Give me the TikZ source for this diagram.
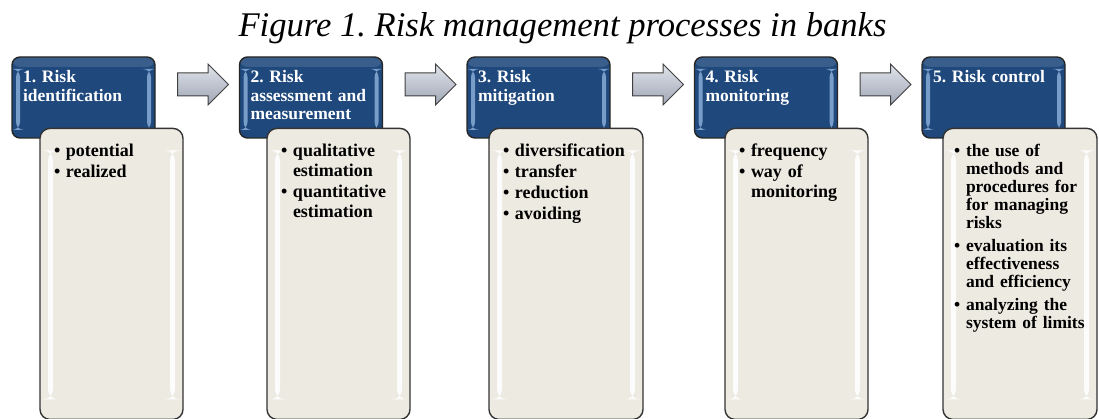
\documentclass[tikz,border=0pt]{standalone}
\usepackage{fontspec}
\setmainfont{Liberation Serif}
\usepackage{xcolor}
\usetikzlibrary{positioning, shapes.arrows}

\definecolor{stageblue}{RGB}{31,72,124}
\definecolor{stageshine}{RGB}{150,186,228}
\definecolor{listfill}{RGB}{237,234,226}
\definecolor{flowlight}{RGB}{224,227,234}
\definecolor{flowdark}{RGB}{160,166,182}

\frenchspacing
\hyphenpenalty=10000
\newcommand{\bitem}[1]{\hangindent=12pt\hangafter=1\noindent\makebox[12pt][l]{\textbullet}#1\par}

\tikzset{
  stage/.style={rectangle, rounded corners=8pt, draw=black!85, line width=1.4pt,
    fill=stageblue, text=white, font=\fontsize{17.5}{18.5}\selectfont\bfseries,
    text width=121pt, inner xsep=11pt, inner ysep=0pt, text height=26pt, text depth=55pt, align=left,
    path picture={
      \fill[stageshine, opacity=.75] ([xshift=4pt,yshift=-12pt]path picture bounding box.north west)
        rectangle ([xshift=8pt,yshift=8pt]path picture bounding box.south west);
      \fill[stageshine, opacity=.75] ([xshift=-4pt,yshift=-12pt]path picture bounding box.north east)
        rectangle ([xshift=-8pt,yshift=8pt]path picture bounding box.south east);
      \fill[white, opacity=.12] (path picture bounding box.north west)
        rectangle ([yshift=-10pt]path picture bounding box.north east);
    }},
  sublist/.style={rectangle, rounded corners=10pt, draw=black!80, line width=1.4pt,
    fill=listfill, text=black, font=\fontsize{18}{20}\selectfont\bfseries\setlength{\parskip}{1pt},
    text width=#1, inner xsep=14pt, inner ysep=0pt, text height=28pt, text depth=263pt, align=left,
    anchor=north west,
    path picture={
      \fill[white, opacity=.9] ([xshift=8pt,yshift=-22pt]path picture bounding box.north west)
        rectangle ([xshift=13pt,yshift=20pt]path picture bounding box.south west);
      \fill[white, opacity=.9] ([xshift=-8pt,yshift=-22pt]path picture bounding box.north east)
        rectangle ([xshift=-13pt,yshift=20pt]path picture bounding box.south east);
    }},
  flow/.style={single arrow, draw=black!75, line width=1pt, top color=flowlight, bottom color=flowdark,
    minimum height=51pt, single arrow head extend=9pt, inner xsep=0pt, inner ysep=11pt}
}

\begin{document}
\begin{tikzpicture}[x=1pt, y=-1pt, node distance=227.5pt, on grid]
   \useasboundingbox (0,0) rectangle (1099,419);

   \node[font=\fontsize{34.6}{40}\selectfont\itshape, anchor=base] (title) at (562.5,37)
        {Figure 1. Risk management processes in banks};

   \node[stage] (s_1) at (83.5,97.5) {1. Risk\\identification};
   \node[stage] (s_2) [right=of s_1] {2. Risk\\assessment and\\measurement};
   \node[stage] (s_3) [right=of s_2] {3. Risk\\mitigation};
   \node[stage] (s_4) [right=of s_3] {4. Risk\\monitoring};
   \node[stage] (s_5) [right=of s_4] {5. Risk control};

   \path (s_1) -- (s_2) node[flow, midway, yshift=13pt] (a_1) {};
   \path (s_2) -- (s_3) node[flow, midway, yshift=13pt] (a_2) {};
   \path (s_3) -- (s_4) node[flow, midway, yshift=13pt] (a_3) {};
   \path (s_4) -- (s_5) node[flow, midway, yshift=13pt] (a_4) {};

   \node[sublist=115pt] (l_1) at ([xshift=28pt, yshift=11pt]s_1.south west)
        {\bitem{potential}\bitem{realized}};
   \node[sublist=115pt] (l_2) at ([xshift=27.5pt, yshift=11pt]s_2.south west)
        {\bitem{qualitative\newline estimation}\bitem{quantitative\newline estimation}};
   \node[sublist=126pt] (l_3) at ([xshift=22pt, yshift=11pt]s_3.south west)
        {\bitem{diversification}\bitem{transfer}\bitem{reduction}\bitem{avoiding}};
   \node[sublist=115pt] (l_4) at ([xshift=30.5pt, yshift=11pt]s_4.south west)
        {\bitem{frequency}\bitem{way of\newline monitoring}};
   \node[sublist=132pt, inner xsep=11pt, font=\fontsize{17.5}{18}\selectfont\bfseries\setlength{\parskip}{5pt}] (l_5)
        at ([xshift=21pt, yshift=11pt]s_5.south west)
        {\bitem{the use of\newline methods and\newline procedures for\newline for managing\newline risks}%
         \bitem{evaluation its\newline effectiveness\newline and efficiency}%
         \bitem{analyzing the\newline system of limits}};
\end{tikzpicture}
\end{document}
